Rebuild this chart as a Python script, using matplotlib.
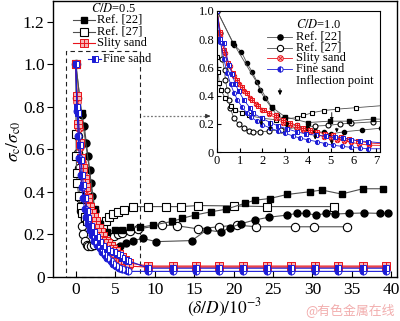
import matplotlib
matplotlib.use('Agg')
import matplotlib.pyplot as plt
from matplotlib.path import Path
from matplotlib.patches import Rectangle, FancyArrowPatch
from matplotlib.lines import Line2D

plt.rcParams['font.family'] = ['Liberation Serif', 'DejaVu Serif']
plt.rcParams['mathtext.fontset'] = 'stix'

# ---------------- data ----------------
# C/D = 0.5
ref22_05_x = [0, 0.72, 2.4, 3.0, 4.0, 4.95, 5.8, 6.85, 8.1, 9.8, 12.2, 13.5, 15.1, 17.2, 19.0,
              21.4, 22.7, 24.6, 26.8, 29.7, 31.2, 33.7, 36.4, 38.9]
ref22_05_y = [1.0, 0.77, 0.32, 0.25, 0.21, 0.22, 0.22, 0.235, 0.232, 0.243, 0.26, 0.275, 0.29, 0.306,
              0.317, 0.345, 0.36, 0.368, 0.387, 0.40, 0.408, 0.389, 0.414, 0.414]

ref27_05_x = [0, 0.02, 0.05, 0.1, 0.17, 0.37, 0.6, 0.81, 1.1, 1.4, 2.0, 2.6, 3.0, 3.5, 3.8, 4.2,
              4.7, 5.3, 6.1, 7.3, 9.2, 11.4, 13.4, 15.5, 20.0, 24.2, 32.7]
ref27_05_y = [1.0, 0.67, 0.57, 0.49, 0.44, 0.38, 0.33, 0.30, 0.28, 0.26, 0.24, 0.23, 0.235, 0.245,
              0.26, 0.28, 0.295, 0.305, 0.315, 0.33, 0.33, 0.33, 0.33, 0.335, 0.333, 0.33, 0.33]

silty_05_x = [0, 0.15, 0.3, 0.5, 0.7, 0.9, 1.1, 1.3, 1.55, 1.8, 2.05, 2.3, 2.6, 2.9, 3.2, 3.5, 3.8,
              4.1, 4.4, 4.75, 5.1, 5.45, 5.8, 6.2, 6.7,
              9.2, 12.3, 15.2, 18.2, 21.2, 24.3, 27.3, 30.3, 33.3, 36.4, 39.3]
silty_05_y = [1.0, 0.85, 0.72, 0.63, 0.56, 0.51, 0.46, 0.42, 0.37, 0.33, 0.30, 0.28, 0.26, 0.23,
              0.21, 0.19, 0.17, 0.16, 0.145, 0.13, 0.12, 0.105, 0.095, 0.08, 0.065,
              0.05, 0.05, 0.05, 0.05, 0.05, 0.05, 0.05, 0.05, 0.05, 0.05, 0.05]

fine_05_x = [0, 0.15, 0.3, 0.52, 0.67, 0.81, 0.96, 1.18, 1.47, 1.6, 1.98, 2.35, 2.7, 3.1, 3.5, 3.9,
             4.35, 4.8, 5.2, 5.56, 5.9, 6.3, 6.66,
             9.2, 12.3, 15.2, 18.2, 21.2, 24.3, 27.3, 30.3, 33.3, 36.4, 39.3]
fine_05_y = [1.0, 0.80, 0.77, 0.62, 0.55, 0.48, 0.43, 0.37, 0.31, 0.275, 0.24, 0.21, 0.185, 0.165,
             0.145, 0.13, 0.12, 0.115, 0.105, 0.10, 0.09, 0.08, 0.075,
             0.04, 0.04, 0.04, 0.04, 0.04, 0.04, 0.04, 0.04, 0.04, 0.04, 0.04]

# C/D = 1.0
ref22_10_x = [0, 0.74, 1.07, 1.32, 1.54, 1.76, 1.88, 2.1, 2.42, 2.64, 2.93, 3.1, 3.5, 3.96, 4.3, 4.7,
              5.0, 5.6, 6.4, 7.2, 8.5, 10.2, 14.7, 16.6, 18.4, 19.5, 21.0, 22.7, 24.5, 26.8, 28.0,
              29.2, 30.5, 31.7, 32.9, 34.7, 36.6, 38.6, 39.6]
ref22_10_y = [1.0, 0.76, 0.71, 0.63, 0.57, 0.50, 0.44, 0.38, 0.31, 0.26, 0.24, 0.20, 0.19, 0.17, 0.15,
              0.14, 0.13, 0.145, 0.158, 0.17, 0.18, 0.165, 0.17, 0.22, 0.21, 0.23, 0.25, 0.267, 0.28,
              0.29, 0.298, 0.298, 0.29, 0.298, 0.295, 0.298, 0.30, 0.298, 0.298]

ref27_10_x = [0, 0.15, 0.23, 0.33, 0.37, 0.45, 0.52, 0.59, 0.74, 0.96, 1.18, 1.4, 1.6, 1.9, 2.3, 2.8,
              3.5, 4.3, 4.9, 5.4, 5.9, 6.85, 7.9, 10.9, 12.8, 15.5, 18.1, 20.4, 22.9, 27.8, 30.2, 34.4]
ref27_10_y = [1.0, 0.84, 0.66, 0.58, 0.51, 0.44, 0.37, 0.31, 0.24, 0.20, 0.17, 0.15, 0.145, 0.145,
              0.15, 0.16, 0.175, 0.185, 0.19, 0.20, 0.205, 0.215, 0.225, 0.243, 0.24, 0.225, 0.235,
              0.243, 0.235, 0.235, 0.235, 0.235]

silty_10_x = [0, 0.15, 0.35, 0.55, 0.75, 0.95, 1.2, 1.45, 1.7, 2.0, 2.3, 2.6, 2.9, 3.2, 3.5, 3.8,
              4.1, 4.4, 4.7, 5.0, 5.3, 5.6, 5.9, 6.25, 6.7,
              9.2, 12.3, 15.2, 18.2, 21.2, 24.3, 27.3, 30.3, 33.3, 36.4, 39.3]
silty_10_y = [1.0, 0.82, 0.70, 0.61, 0.54, 0.48, 0.43, 0.38, 0.34, 0.30, 0.27, 0.24, 0.21, 0.19,
              0.17, 0.155, 0.14, 0.125, 0.11, 0.10, 0.09, 0.08, 0.07, 0.06, 0.05,
              0.045, 0.045, 0.045, 0.045, 0.045, 0.045, 0.045, 0.045, 0.045, 0.045, 0.045]

fine_10_x = [0, 0.15, 0.3, 0.45, 0.6, 0.75, 0.9, 1.1, 1.3, 1.5, 1.75, 2.0, 2.35, 2.7, 3.0, 3.35,
             3.66, 4.0, 4.4, 4.75, 5.1, 5.5, 5.9, 6.3, 6.66,
             9.2, 12.3, 15.2, 18.2, 21.2, 24.3, 27.3, 30.3, 33.3, 36.4, 39.3]
fine_10_y = [1.0, 0.78, 0.66, 0.56, 0.48, 0.42, 0.37, 0.32, 0.28, 0.25, 0.22, 0.195, 0.17, 0.15,
             0.134, 0.115, 0.10, 0.088, 0.075, 0.062, 0.05, 0.042, 0.035, 0.03, 0.025,
             0.025, 0.025, 0.025, 0.025, 0.025, 0.025, 0.025, 0.025, 0.025, 0.025, 0.025]

# inflection points (inset): x, arrow start y, arrow end y
infl_x = [1.95, 2.35, 3.1, 4.32, 5.05, 5.05, 5.27]
infl_y0 = [0.25, 0.24, 0.23, 0.15, 0.30, 0.11, 0.19]
infl_y1 = [0.17, 0.13, 0.16, 0.07, 0.20, 0.035, 0.12]

main_xticks = [0, 5, 10, 15, 20, 25, 30, 35, 40]
main_yticks = [0, 0.2, 0.4, 0.6, 0.8, 1.0, 1.2]
main_yticklabels = ['0', '0.2', '0.4', '0.6', '0.8', '1.0', '1.2']
inset_xticks = [0, 1, 2, 3, 4, 5, 6, 7]
inset_yticks = [0, 0.2, 0.4, 0.6, 0.8, 1.0]
inset_yticklabels = ['0', '0.2', '0.4', '0.6', '0.8', '1.0']

# ---------------- markers ----------------
SQ_PLUS = Path([(-1, -1), (1, -1), (1, 1), (-1, 1), (-1, -1), (0, -1), (0, 1), (-1, 0), (1, 0)],
               [Path.MOVETO, Path.LINETO, Path.LINETO, Path.LINETO, Path.CLOSEPOLY,
                Path.MOVETO, Path.LINETO, Path.MOVETO, Path.LINETO])
_c = Path.unit_circle()
_d = 0.7071
CIRC_X = Path.make_compound_path(
    _c, Path([(-_d, -_d), (_d, _d), (-_d, _d), (_d, -_d)],
             [Path.MOVETO, Path.LINETO, Path.MOVETO, Path.LINETO]))

RED = '#e8141c'
PINK = '#f7b4b4'
BLUE = '#1c1cd6'
GRAY = '#505050'


def style(kind, scale):
    if kind == 'r22_05':
        return dict(color=GRAY, marker='s', mfc='k', mec='k', ms=4.6 * scale)
    if kind == 'r27_05':
        return dict(color=GRAY, marker='s', mfc='white', mec='k', ms=6.0 * scale, mew=0.8)
    if kind == 's_05':
        return dict(color=RED, marker=SQ_PLUS, mfc=PINK, mec=RED, ms=6.0 * scale, mew=0.7)
    if kind == 'f_05':
        return dict(color=BLUE, marker='s', fillstyle='left', mfc=BLUE, mfcalt='white',
                    mec=BLUE, ms=5.0 * scale, mew=0.7)
    if kind == 'r22_10':
        return dict(color=GRAY, marker='o', mfc='k', mec='k', ms=5.0 * scale)
    if kind == 'r27_10':
        return dict(color=GRAY, marker='o', mfc='white', mec='k', ms=6.0 * scale, mew=0.8)
    if kind == 's_10':
        return dict(color=RED, marker=CIRC_X, mfc=PINK, mec=RED, ms=5.5 * scale, mew=0.6)
    if kind == 'f_10':
        return dict(color=BLUE, marker='o', fillstyle='left', mfc=BLUE, mfcalt='white',
                    mec=BLUE, ms=5.0 * scale, mew=0.7)


series = [
    ('r27_10', ref27_10_x, ref27_10_y),
    ('r27_05', ref27_05_x, ref27_05_y),
    ('r22_10', ref22_10_x, ref22_10_y),
    ('r22_05', ref22_05_x, ref22_05_y),
    ('s_10', silty_10_x, silty_10_y),
    ('s_05', silty_05_x, silty_05_y),
    ('f_10', fine_10_x, fine_10_y),
    ('f_05', fine_05_x, fine_05_y),
]

W, H = 400, 321
fig = plt.figure(figsize=(W / 100, H / 100), dpi=100)


def fx(px):
    return px / W


def fy(py):
    return 1 - py / H


# ---------------- main axes ----------------
ax = fig.add_axes([fx(53), fy(276.7), fx(396.7) - fx(53), fy(0.5) - fy(276.7)])
for kind, xs, ys in series:
    ax.plot(xs, ys, lw=0.8, **style(kind, 1.0))
ax.set_xlim(-2.9, 40.7)
ax.set_ylim(0, 1.3)
ax.set_xticks(main_xticks)
ax.set_yticks(main_yticks)
ax.set_yticklabels(main_yticklabels)
ax.tick_params(axis='x', direction='in', length=4, labelsize=12.5, pad=4)
ax.tick_params(axis='y', direction='out', length=4, labelsize=12.5, pad=2)
for s in ax.spines.values():
    s.set_linewidth(1.0)

# dashed zoom box
ax.add_patch(Rectangle((-1.2, 0), 9.3, 1.06, fill=False, ls=(0, (4, 3)), lw=0.8,
                       ec='#222222', clip_on=False))
# dotted connector arrow
ax.plot([8.5, 16.8], [0.756, 0.756], ls=(0, (1.5, 1.5)), color='#777777', lw=0.9)
ax.annotate('', xy=(17.4, 0.756), xytext=(16.5, 0.756),
            arrowprops=dict(arrowstyle='-|>', color='#333333', lw=0.8, mutation_scale=6))

# labels
fig.text(fx(14), fy(141), r'$\sigma_{\mathrm{c}}/\sigma_{\mathrm{c0}}$', rotation=90,
         ha='center', va='center', fontsize=12.5)
fig.text(fx(225), fy(308), r'$(\delta/D)/10^{-3}$', ha='center', va='center', fontsize=12.5)

# ---------------- inset ----------------
ax2 = fig.add_axes([fx(217), fy(152.3), fx(379.5) - fx(217), fy(10.7) - fy(152.3)])
ax2.set_facecolor('white')
for kind, xs, ys in series:
    ax2.plot(xs, ys, lw=0.6, **style(kind, 0.6))
for xi, a, b in zip(infl_x, infl_y0, infl_y1):
    ax2.annotate('', xy=(xi, b), xytext=(xi, a),
                 arrowprops=dict(arrowstyle='-|>', color='k', lw=0.6, mutation_scale=5))
ax2.set_xlim(0, 7.15)
ax2.set_ylim(0, 1.0)
ax2.set_xticks(inset_xticks)
ax2.set_yticks(inset_yticks)
ax2.set_yticklabels(inset_yticklabels)
ax2.tick_params(direction='in', length=3, labelsize=9, pad=2)
for s in ax2.spines.values():
    s.set_linewidth(0.8)


# ---------------- legends (manual) ----------------
def entry(x0, x1, ypx, kind, label, scale, fs, tx, lw=0.8):
    st = style(kind, scale)
    ln = Line2D([fx(x0), fx(x1)], [fy(ypx), fy(ypx)], transform=fig.transFigure,
                color=st['color'], lw=lw)
    fig.add_artist(ln)
    st2 = dict(st)
    st2.pop('color')
    mk = Line2D([fx((x0 + x1) / 2)], [fy(ypx)], transform=fig.transFigure, ls='none', **st2)
    fig.add_artist(mk)
    fig.text(fx(tx), fy(ypx), label, ha='left', va='center', fontsize=fs)


LFS = 9
fig.text(fx(114), fy(8.5), r'$C/D$=0.5', ha='center', va='center', fontsize=LFS)
entry(73, 95, 20, 'r22_05', 'Ref. [22]', 0.95, LFS, 97)
entry(73, 95, 31.5, 'r27_05', 'Ref. [27]', 0.95, LFS, 97)
entry(73, 95, 43, 's_05', 'Slity sand', 0.95, LFS, 97)
entry(88, 101, 59, 'f_05', 'Fine sand', 0.95, LFS, 103)

fig.text(fx(296), fy(25), r'$C/D$=1.0', ha='left', va='center', fontsize=LFS)
entry(267, 292, 36.7, 'r22_10', 'Ref. [22]', 0.75, LFS, 296, lw=0.6)
entry(267, 292, 47.7, 'r27_10', 'Ref. [27]', 0.75, LFS, 296, lw=0.6)
entry(267, 292, 58.3, 's_10', 'Slity sand', 0.75, LFS, 296, lw=0.6)
entry(267, 292, 69.3, 'f_10', 'Fine sand', 0.75, LFS, 296, lw=0.6)
fig.text(fx(296), fy(81), 'Inflection point', ha='left', va='center', fontsize=LFS)
fig.add_artist(FancyArrowPatch(
    (fx(280), fy(86)), (fx(280), fy(98)), transform=fig.transFigure,
    arrowstyle='-|>', mutation_scale=6, color='k', lw=0.7))

# watermark
fig.text(fx(350), fy(311), '@有色金属在线', ha='center', va='center', fontsize=9.3,
         color='#f2aeae', family=['Noto Sans CJK SC', 'DejaVu Sans'])

fig.savefig('out.png', dpi=100)
